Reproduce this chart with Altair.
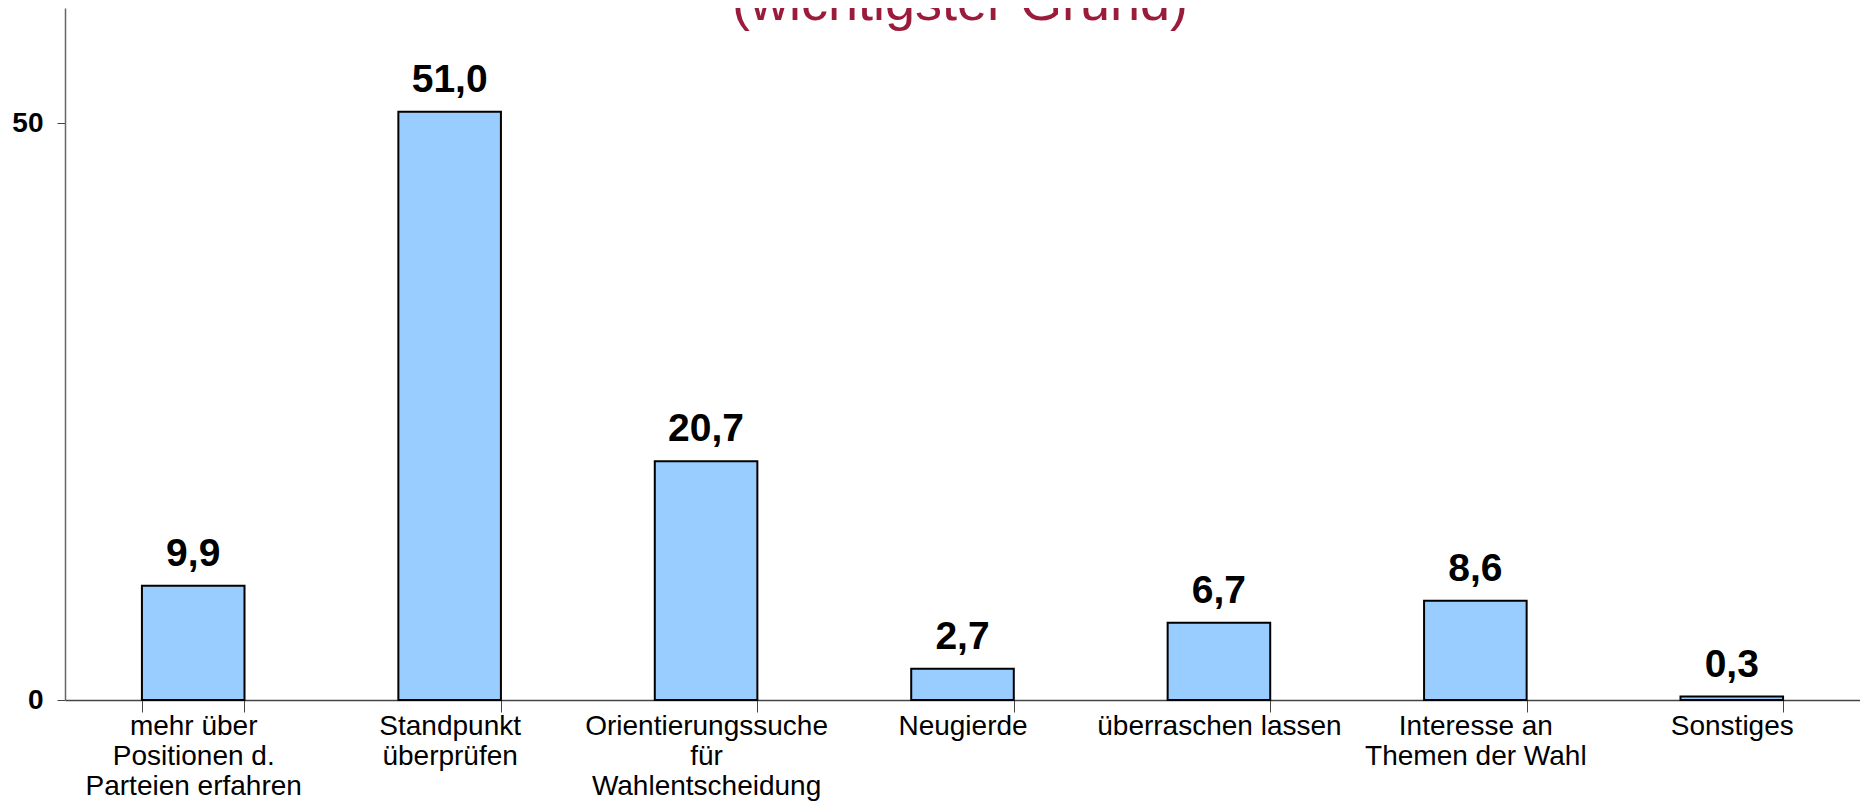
import altair as alt
import pandas as pd

categories = [
    "mehr über|Positionen d.|Parteien erfahren",
    "Standpunkt|überprüfen",
    "Orientierungssuche|für|Wahlentscheidung",
    "Neugierde",
    "überraschen lassen",
    "Interesse an|Themen der Wahl",
    "Sonstiges",
]
values = [9.9, 51.0, 20.7, 2.7, 6.7, 8.6, 0.3]
title_text = "(wichtigster Grund)"

FONT = "Liberation Sans, Arial, sans-serif"
W, H = 1795, 692

df = pd.DataFrame({"cat": categories, "val": values})

xenc = alt.X(
    "cat:N",
    sort=categories,
    title=None,
    scale=alt.Scale(paddingInner=0.6, paddingOuter=0.3),
    axis=alt.Axis(
        labelExpr="split(datum.label, '|')",
        labelAngle=0,
        labelFont=FONT,
        labelFontSize=28,
        labelColor="black",
        labelLineHeight=30,
        labelLimit=400,
        labelPadding=0,
        labelBaseline="top",
        tickBand="extent",
        tickSize=12,
        tickColor="#444444",
        domainColor="#444444",
        domainWidth=1.5,
        grid=False,
    ),
)

yenc = alt.Y(
    "val:Q",
    title=None,
    scale=alt.Scale(domain=[0, 60], nice=False),
    axis=alt.Axis(
        values=[0, 50],
        labelFont=FONT,
        labelFontSize=28,
        labelFontWeight="bold",
        labelColor="black",
        labelPadding=14,
        tickSize=8,
        tickColor="#444444",
        domainColor="#666666",
        domainWidth=1.5,
        grid=False,
    ),
)

bars = alt.Chart(df).mark_bar(
    fill="#99CCFF", stroke="black", strokeWidth=2
).encode(x=xenc, y=yenc)

labels = alt.Chart(df).transform_calculate(
    lab="replace(format(datum.val, '.1f'), '.', ',')"
).mark_text(
    font=FONT, fontSize=39, fontWeight="bold", color="black",
    baseline="alphabetic", dy=-20
).encode(x=alt.X("cat:N", sort=categories), y="val:Q", text="lab:N")

title = alt.Chart(pd.DataFrame({"t": [title_text]})).mark_text(
    font=FONT, fontSize=54, color="#9B1B3B", baseline="alphabetic", align="center"
).encode(text="t:N", x=alt.value(895), y=alt.value(12))

chart = alt.layer(bars, labels, title).properties(
    width=W, height=H,
    autosize=alt.AutoSizeParams(type="none"),
    padding={"left": 57, "top": 0, "right": 0, "bottom": 104},
).configure_view(stroke=None)

chart.save("out.html", embed_options={"renderer": "svg", "actions": False})
